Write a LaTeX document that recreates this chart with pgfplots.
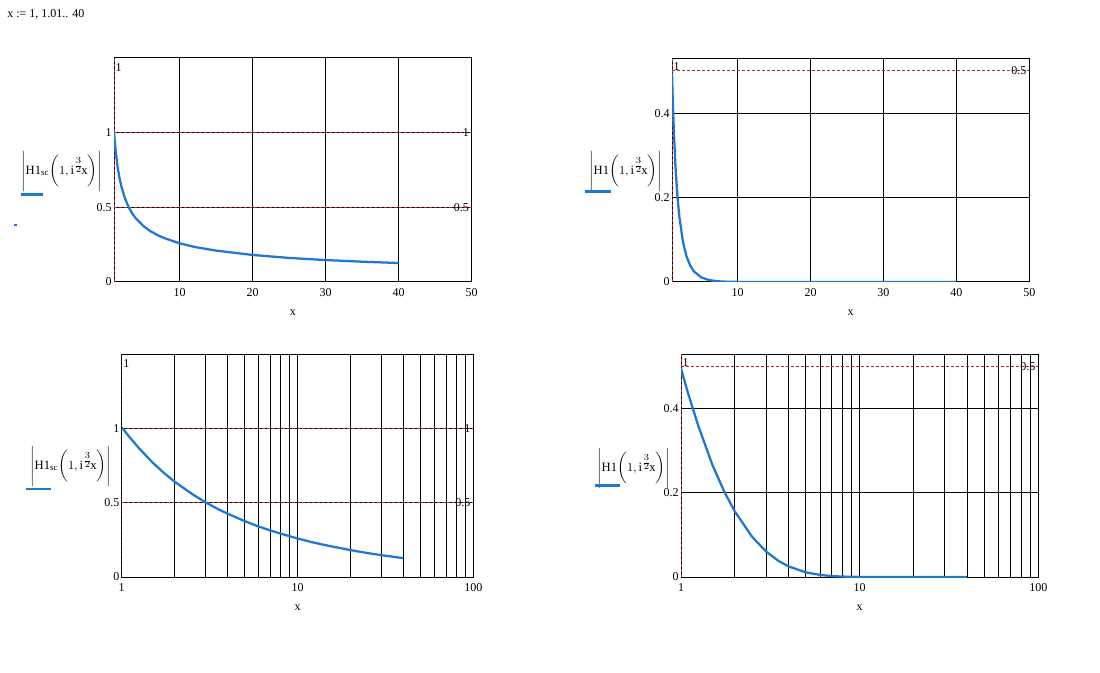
\documentclass[border=0pt]{standalone}
\usepackage{fontspec}
\setmainfont{Liberation Serif}
\usepackage{pgfplots}
\pgfplotsset{compat=1.18}
\usepackage{pgfplotstable}

\definecolor{mcblue}{RGB}{30,120,210}
\definecolor{mcred}{RGB}{180,40,40}

% |H1sc(1, i^(3/2) x)| and |H1(1, i^(3/2) x)|
\pgfplotstableread{
x     sc     h1
1     1.006  0.496
1.05  0.975  0.464
1.1   0.945  0.434
1.25  0.868  0.359
1.5   0.769  0.266
1.75  0.697  0.202
2     0.641  0.156
2.5   0.560  0.0955
3     0.502  0.0602
3.5   0.459  0.0387
4     0.426  0.0252
5     0.376  0.0110
6     0.340  0.0049
7     0.313  0.0022
8     0.292  0.0010
10    0.259  0.0002
12    0.235  0.00005
15    0.210  0
20    0.181  0
25    0.161  0
30    0.147  0
35    0.136  0
40    0.127  0
}\hdata

\tikzset{lbl/.style={font=\fontsize{9}{10}\selectfont, inner sep=0pt}}

\pgfplotsset{
  mc/.style={
    scale only axis, anchor=south west, clip mode=individual,
    axis line style={black, line width=0.75pt},
    grid=major,
    major grid style={black, line width=0.75pt},
    minor grid style={black, line width=0.75pt},
    major tick length=0pt, minor tick length=0pt,
    tick style={draw=none},
    ticklabel style={font=\fontsize{9}{10}\selectfont},
    /pgf/number format/assume math mode=true,
    xticklabel style={inner sep=0pt, yshift=-5pt},
    yticklabel style={inner sep=0pt, xshift=-1.5pt},
  },
  curve/.style={mcblue, line width=1.7pt, no markers},
  markline/.style={mcred, line width=0.75pt, dash pattern=on 2.25pt off 1.5pt, no markers},
}

\newcommand{\ylab}[1]{$\Bigg|\mathrm{#1}\bigg(1,\mathrm{i}^{\textstyle\frac{3}{2}}\!\mathrm{x}\bigg)\Bigg|$}

\begin{document}
\begin{tikzpicture}
\useasboundingbox (0,0) rectangle (825pt,-504.75pt);

% top left: scaled, linear x
\begin{axis}[mc, at={(85.5pt,-211.5pt)}, width=268.3pt, height=168pt,
  xmin=1, xmax=50, ymin=0, ymax=1.5,
  xtick={10,20,30,40,50}, ytick={0,0.5,1}]
\addplot[markline] coordinates {(1,1) (50,1)};
\addplot[markline] coordinates {(1,0.5) (50,0.5)};
\addplot[markline] coordinates {(1,0) (1,1.5)};
\addplot[curve] table[x=x, y=sc] {\hdata};
\node[lbl, anchor=east, xshift=-2pt] at (axis cs:50,1) {1};
\node[lbl, anchor=east, xshift=-2pt] at (axis cs:50,0.5) {0.5};
\node[lbl, anchor=north west, xshift=1pt, yshift=-4pt] at (rel axis cs:0,1) {1};
\node[lbl, yshift=-23.25pt] at (rel axis cs:0.5,0) {x};
\end{axis}

% top right: unscaled, linear x
\begin{axis}[mc, at={(504pt,-211.5pt)}, width=268pt, height=167.8pt,
  xmin=1, xmax=50, ymin=0, ymax=0.53,
  xtick={10,20,30,40,50}, ytick={0,0.2,0.4}]
\addplot[markline] coordinates {(1,0.5) (50,0.5)};
\addplot[markline] coordinates {(1,0) (1,0.53)};
\addplot[curve] table[x=x, y=h1] {\hdata};
\node[lbl, anchor=east, xshift=-2pt] at (axis cs:50,0.5) {0.5};
\node[lbl, anchor=north west, xshift=1pt, yshift=-3pt] at (rel axis cs:0,1) {1};
\node[lbl, yshift=-23.25pt] at (rel axis cs:0.5,0) {x};
\end{axis}

% bottom left: scaled, log x
\begin{axis}[mc, at={(91.3pt,-432.75pt)}, width=263.7pt, height=167.25pt,
  xmode=log, xmin=1, xmax=100, ymin=0, ymax=1.5,
  xtick={1,10,100}, xticklabels={1,10,100},
  minor xtick={2,3,4,5,6,7,8,9,20,30,40,50,60,70,80,90},
  xminorgrids=true, ytick={0,0.5,1}]
\addplot[markline] coordinates {(1,1) (100,1)};
\addplot[markline] coordinates {(1,0.5) (100,0.5)};
\addplot[markline] coordinates {(1,0) (1,1.5)};
\addplot[curve] table[x=x, y=sc] {\hdata};
\node[lbl, anchor=east, xshift=-2pt] at (axis cs:100,1) {1};
\node[lbl, anchor=east, xshift=-2pt] at (axis cs:100,0.5) {0.5};
\node[lbl, anchor=north west, xshift=1pt, yshift=-4pt] at (rel axis cs:0,1) {1};
\node[lbl, yshift=-23.25pt] at (rel axis cs:0.5,0) {x};
\end{axis}

% bottom right: unscaled, log x
\begin{axis}[mc, at={(510.75pt,-432.75pt)}, width=268pt, height=167.25pt,
  xmode=log, xmin=1, xmax=100, ymin=0, ymax=0.53,
  xtick={1,10,100}, xticklabels={1,10,100},
  minor xtick={2,3,4,5,6,7,8,9,20,30,40,50,60,70,80,90},
  xminorgrids=true, ytick={0,0.2,0.4}]
\addplot[markline] coordinates {(1,0.5) (100,0.5)};
\addplot[markline] coordinates {(1,0) (1,0.53)};
\addplot[curve] table[x=x, y=h1] {\hdata};
\node[lbl, anchor=east, xshift=-2pt] at (axis cs:100,0.5) {0.5};
\node[lbl, anchor=north west, xshift=1pt, yshift=-3pt] at (rel axis cs:0,1) {1};
\node[lbl, yshift=-23.25pt] at (rel axis cs:0.5,0) {x};
\end{axis}

% texts and legend swatches, in pixels of the reference
\begin{scope}[x=0.75pt, y=-0.75pt]
\node[lbl, anchor=west] at (7,14) {x := 1, 1.01.. 40};
\node[anchor=west, inner sep=0pt, font=\fontsize{9.5}{11}\selectfont] at (21,171) {\ylab{H1_{sc}}};
\draw[mcblue, line width=1.7pt] (21,194.5) -- (43,194.5);
\draw[mcblue, line width=1.5pt] (14,225) -- (17,225);
\node[anchor=west, inner sep=0pt, font=\fontsize{9.5}{11}\selectfont] at (589,171) {\ylab{H1}};
\draw[mcblue, line width=1.7pt] (585,191.5) -- (611,191.5);
\node[anchor=west, inner sep=0pt, font=\fontsize{9.5}{11}\selectfont] at (30,466) {\ylab{H1_{sc}}};
\draw[mcblue, line width=1.7pt] (26,489) -- (51,489);
\node[anchor=west, inner sep=0pt, font=\fontsize{9.5}{11}\selectfont] at (597,468) {\ylab{H1}};
\draw[mcblue, line width=1.7pt] (595,485.5) -- (620,485.5);
\end{scope}
\end{tikzpicture}
\end{document}
